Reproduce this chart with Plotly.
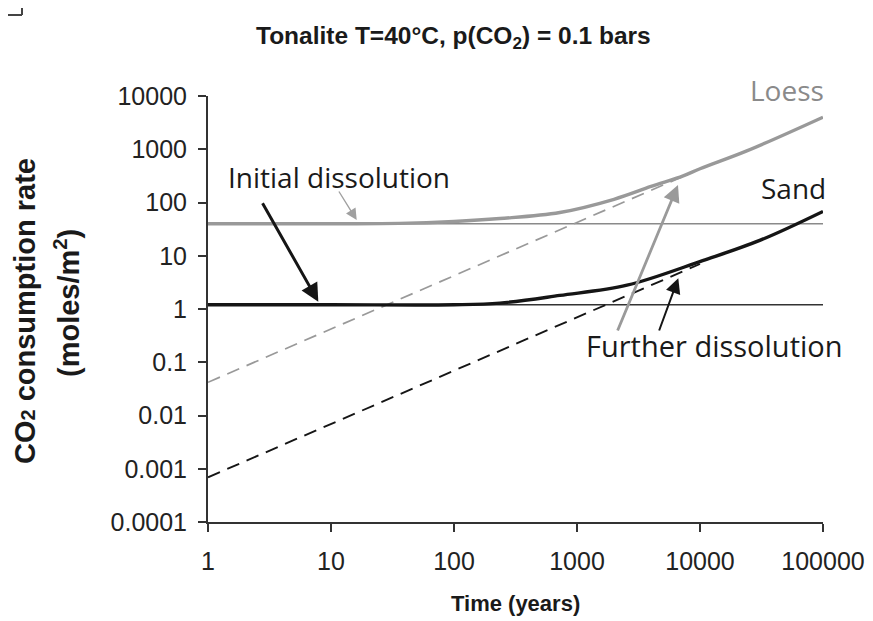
import plotly.graph_objects as go

# ---- data ----
loess_years = [1, 10, 36, 100, 236, 725, 2000, 4000, 7300, 10000, 24000, 100000]
loess_rate = [40, 40, 40.5, 44, 50, 65, 115, 200, 316, 430, 930, 4000]
sand_years = [1, 10, 100, 236, 725, 2550, 10500, 30600, 100000]
sand_rate = [1.2, 1.2, 1.2, 1.29, 1.8, 2.8, 8.1, 19.4, 68]
loess_initial = 40
sand_initial = 1.2
loess_further_years = [1, 7200]
loess_further_rate = [0.042, 305]
sand_further_years = [1, 10000]
sand_further_rate = [0.00069, 7]
x_ticks = [1, 10, 100, 1000, 10000, 100000]
x_ticklabels = ["1", "10", "100", "1000", "10000", "100000"]
y_ticks = [0.0001, 0.001, 0.01, 0.1, 1, 10, 100, 1000, 10000]
y_ticklabels = ["0.0001", "0.001", "0.01", "0.1", "1", "10", "100", "1000", "10000"]
x_span = [1, 100000]

GRAY = "#999999"
GRAY_THIN = "#8a8a8a"
BLACK = "#151515"

fig = go.Figure()
fig.add_trace(go.Scatter(x=x_span, y=[loess_initial] * 2, mode="lines",
                         line=dict(color=GRAY_THIN, width=1.6), hoverinfo="skip"))
fig.add_trace(go.Scatter(x=x_span, y=[sand_initial] * 2, mode="lines",
                         line=dict(color="#333333", width=1.6), hoverinfo="skip"))
fig.add_trace(go.Scatter(x=loess_further_years, y=loess_further_rate, mode="lines",
                         line=dict(color=GRAY, width=1.7, dash="13px,8px")))
fig.add_trace(go.Scatter(x=sand_further_years, y=sand_further_rate, mode="lines",
                         line=dict(color=BLACK, width=1.9, dash="13px,8px")))
fig.add_trace(go.Scatter(x=loess_years, y=loess_rate, mode="lines", line_shape="spline",
                         line=dict(color=GRAY, width=3.4)))
fig.add_trace(go.Scatter(x=sand_years, y=sand_rate, mode="lines", line_shape="spline",
                         line=dict(color=BLACK, width=3.4)))

# page body adds an 8px offset; work in screen pixels and shift
OFF = 8
W, H = 873 - OFF, 621 - OFF
X0, X1, Y0, Y1 = 208, 823, 96, 522          # plot area in screen pixels
L, R, T, B = X0 - OFF, W - (X1 - OFF), Y0 - OFF, H - (Y1 - OFF)
PW, PH = X1 - X0, Y1 - Y0


def px(xp):
    return (xp - X0) / PW


def py(yp):
    return (Y1 - yp) / PH


LABEL_FONT = "Open Sans, Noto Sans, sans-serif"
ARIAL = "Liberation Sans, Arial, sans-serif"


def label(xp, yp, text, font, xanchor="center", angle=0):
    return dict(x=px(xp), y=py(yp), xref="paper", yref="paper", showarrow=False,
                xanchor=xanchor, yanchor="middle", textangle=angle, text=text, font=font)


def arrow(xp, yp, ax, ay, color, width, size):
    return dict(x=px(xp), y=py(yp), xref="paper", yref="paper", ax=ax, ay=ay, text="",
                showarrow=True, arrowhead=2, arrowsize=size, arrowwidth=width,
                arrowcolor=color, standoff=0)


ann = [
    label(338.5, 177, "Initial dissolution", dict(family=LABEL_FONT, size=28, color="#1a1a1a")),
    label(826, 90, "Loess", dict(family=LABEL_FONT, size=28, color="#8a8a8a"), "right"),
    label(828, 188, "Sand", dict(family=LABEL_FONT, size=28, color="#1a1a1a"), "right"),
    label(584, 345, "Further dissolution", dict(family=LABEL_FONT, size=29, color="#1a1a1a"), "left"),
    arrow(318.3, 301.7, -56.6, -100, BLACK, 3, 1.2),
    arrow(356.7, 220, -18.7, -30, "#a0a0a0", 1.4, 1.6),
    arrow(678, 185, -61, 147, "#9a9a9a", 2.8, 1.2),
    arrow(678.3, 278.3, -19.7, 53.7, BLACK, 2, 1.5),
    label(25, 311, "<b>CO<span style='font-size:20px'>2</span> consumption rate</b>",
          dict(family=ARIAL, size=29, color="#1a1a1a"), angle=-90),
    label(67, 303, "<b>(moles/m<sup>2</sup>)</b>",
          dict(family=ARIAL, size=29, color="#1a1a1a"), angle=-90),
    label(515, 603, "<b>Time (years)</b>", dict(family=ARIAL, size=22, color="#1a1a1a")),
    label(453, 37, "<b>Tonalite T=40°C, p(CO<sub>2</sub>) = 0.1 bars</b>",
          dict(family=ARIAL, size=24.5, color="#1a1a1a")),
]

shapes = [
    dict(type="line", xref="paper", yref="paper", x0=px(22), x1=px(22), y0=py(0), y1=py(15),
         line=dict(color="#444", width=2)),
    dict(type="line", xref="paper", yref="paper", x0=px(0), x1=px(22), y0=py(15), y1=py(15),
         line=dict(color="#444", width=2)),
]

fig.update_layout(
    width=W, height=H,
    margin=dict(l=L, r=R, t=T, b=B, autoexpand=False),
    plot_bgcolor="white", paper_bgcolor="white",
    showlegend=False,
    annotations=ann, shapes=shapes,
    xaxis=dict(type="log", range=[0, 5], tickvals=x_ticks, ticktext=x_ticklabels,
               showgrid=False, zeroline=False, showline=True, linecolor="#333", linewidth=2,
               ticks="outside", ticklen=8, tickwidth=2, tickcolor="#333", automargin=False,
               tickfont=dict(family=ARIAL, size=25, color="#222"), ticklabelstandoff=8),
    yaxis=dict(type="log", range=[-4, 4], tickvals=y_ticks, ticktext=y_ticklabels,
               showgrid=False, zeroline=False, showline=True, linecolor="#333", linewidth=2,
               ticks="outside", ticklen=8, tickwidth=2, tickcolor="#333", automargin=False,
               tickfont=dict(family=ARIAL, size=25, color="#222"), ticklabelstandoff=6),
)

fig.write_html("out.html")
